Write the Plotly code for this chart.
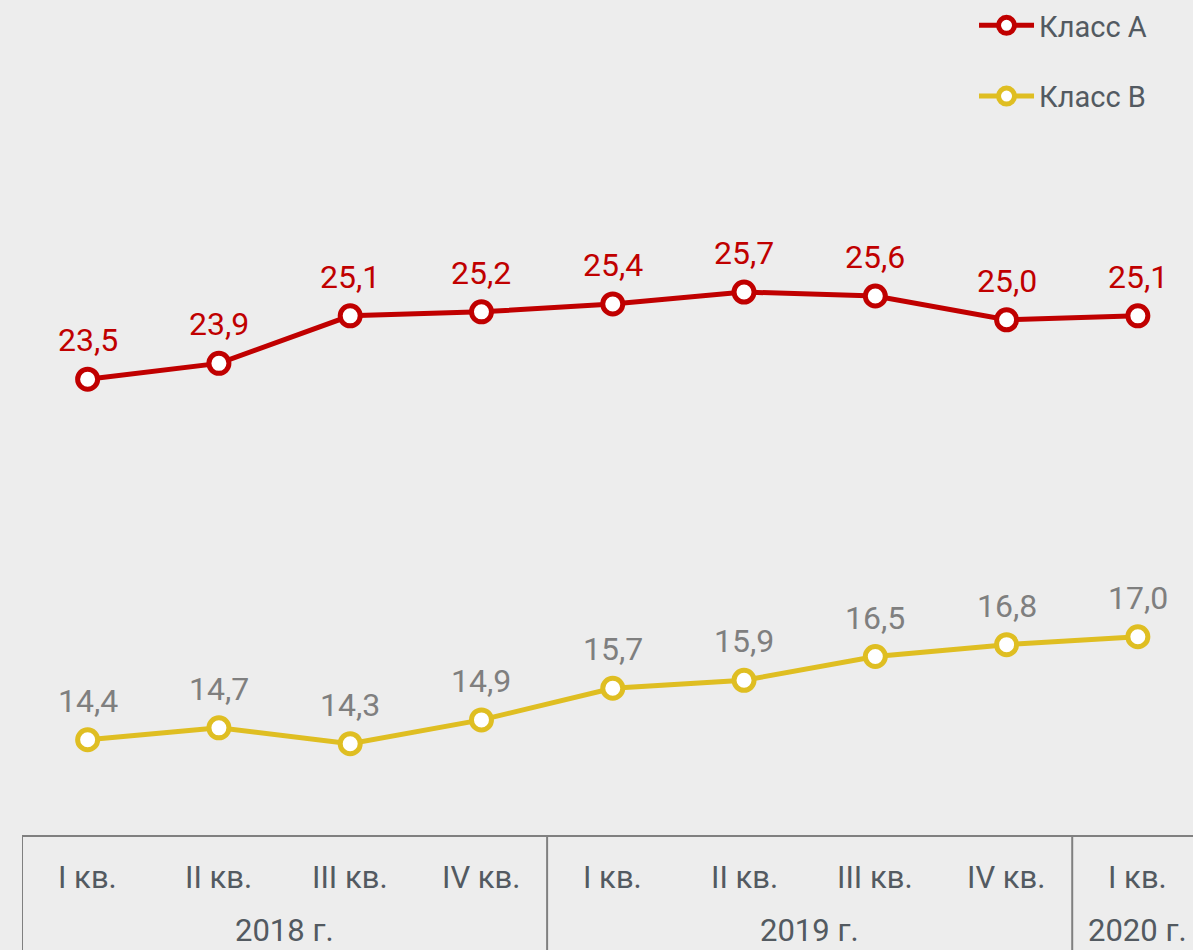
import plotly.graph_objects as go

quarters = ["I кв.", "II кв.", "III кв.", "IV кв.", "I кв.", "II кв.", "III кв.", "IV кв.", "I кв."]
years = ["2018 г.", "2019 г.", "2020 г."]
year_spans = [(0, 3), (4, 7), (8, 8)]
class_a = [23.5, 23.9, 25.1, 25.2, 25.4, 25.7, 25.6, 25.0, 25.1]
class_b = [14.4, 14.7, 14.3, 14.9, 15.7, 15.9, 16.5, 16.8, 17.0]

RED = "#C00000"
YEL = "#DFBE22"
GRAY_TXT = "#7F7F7F"
AX_TXT = "#535A61"
LINE_GRAY = "#808080"
FONT = "Roboto"

x = list(range(len(quarters)))

def fmt(v):
    return f"{v:.1f}".replace(".", ",")

fig = go.Figure()
fig.add_trace(go.Scatter(
    x=x, y=class_a, name="Класс А", legendgroup="a",
    mode="lines+markers",
    line=dict(color=RED, width=5),
    marker=dict(size=20, color="white", line=dict(color=RED, width=5)),
    cliponaxis=False,
))
fig.add_trace(go.Scatter(
    x=x, y=class_b, name="Класс В", legendgroup="b",
    mode="lines+markers",
    line=dict(color=YEL, width=5),
    marker=dict(size=20, color="white", line=dict(color=YEL, width=5)),
    cliponaxis=False,
))

shapes = []
shapes.append(dict(type="line", xref="x", yref="paper", x0=-0.5, x1=9, y0=0, y1=0,
                   line=dict(color=LINE_GRAY, width=2)))
for (a, b) in year_spans:
    shapes.append(dict(type="line", xref="x", yref="paper", x0=a - 0.5, x1=a - 0.5, y0=0, y1=-0.2,
                       line=dict(color=LINE_GRAY, width=2)))

annotations = []
for series, col in ((class_a, RED), (class_b, GRAY_TXT)):
    for i, v in zip(x, series):
        annotations.append(dict(x=i, y=v, xref="x", yref="y", text=fmt(v), showarrow=False,
                                yshift=39, yanchor="middle",
                                font=dict(family=FONT, size=32, color=col)))
for i, q in enumerate(quarters):
    annotations.append(dict(x=i, y=-0.0502, xref="x", yref="paper", text=q, showarrow=False,
                            font=dict(family=FONT, size=31, color=AX_TXT), yanchor="middle"))
for (a, b), yl in zip(year_spans, years):
    annotations.append(dict(x=(a + b) / 2, y=-0.1145, xref="x", yref="paper", text=yl, showarrow=False,
                            font=dict(family=FONT, size=31, color=AX_TXT), yanchor="middle",
                            borderpad=0))

fig.update_layout(
    width=1193, height=950,
    margin=dict(l=22, r=0, t=0, b=114),
    paper_bgcolor="#EDEDED", plot_bgcolor="#EDEDED",
    xaxis=dict(range=[-0.5, 8.42], showticklabels=False, showgrid=False, zeroline=False,
               showline=False, fixedrange=True),
    yaxis=dict(range=[11.97, 32.87], visible=False, showgrid=False, zeroline=False),
    showlegend=True,
    legend=dict(x=0.813, xanchor="left", y=1.01, yanchor="top", bgcolor="rgba(0,0,0,0)",
                font=dict(family=FONT, size=29, color=AX_TXT), tracegroupgap=30,
                itemwidth=55),
    shapes=shapes, annotations=annotations,
)

fig.write_html("out.html", post_script="document.body.style.margin='0';",
               config={"displayModeBar": False})
